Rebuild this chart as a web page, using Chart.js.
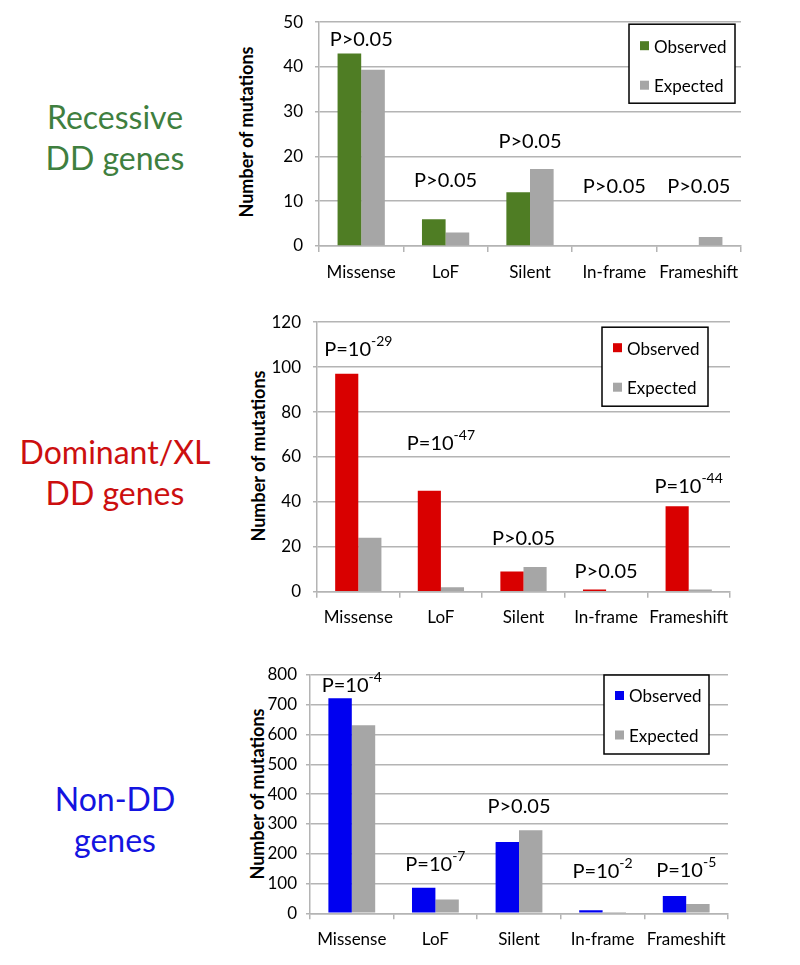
<!DOCTYPE html>
<html>
<head>
<meta charset="utf-8">
<script src="https://cdn.jsdelivr.net/npm/chart.js@4.4.1/dist/chart.umd.min.js"></script>
<style>
  html, body { margin: 0; padding: 0; background: #fff; }
  body { width: 800px; height: 965px; position: relative; overflow: hidden; font-family: Lato, "Open Sans", sans-serif; }
  .wrap { position: absolute; left: 230px; width: 570px; }
  .side { position: absolute; width: 230px; text-align: center; font-family: Lato, sans-serif; font-size: 32px; line-height: 41px; }
  .ytitle { position: absolute; font-family: Lato, sans-serif; font-weight: bold; font-size: 18px; color: #000; white-space: nowrap; transform: translate(-50%, -50%) rotate(-90deg); }
</style>
</head>
<body>
<div class="side" style="left:0; top:96px; color:#3f7f3f;">Recessive<br>DD genes</div>
<div class="side" style="left:0; top:431px; color:#cc0f0f;">Dominant/XL<br>DD genes</div>
<div class="side" style="left:0; top:778px; color:#1414e0;">Non-DD<br>genes</div>

<div class="ytitle" style="left:246px; top:132px;">Number of mutations</div>
<div class="ytitle" style="left:258px; top:456px;">Number of mutations</div>
<div class="ytitle" style="left:257px; top:794px;">Number of mutations</div>

<div class="wrap" style="top:0; height:290px;"><canvas id="c1" width="570" height="290"></canvas></div>
<div class="wrap" style="top:300px; height:330px;"><canvas id="c2" width="570" height="330"></canvas></div>
<div class="wrap" style="top:640px; height:325px;"><canvas id="c3" width="570" height="325"></canvas></div>

<script>
// ---- data ----
const categories = ['Missense', 'LoF', 'Silent', 'In-frame', 'Frameshift'];
const seriesNames = ['Observed', 'Expected'];

const recessiveObserved = [43, 6, 12, 0, 0];
const recessiveExpected = [39.4, 3, 17.2, 0, 2];
const recessivePValues = ['P>0.05', 'P>0.05', 'P>0.05', 'P>0.05', 'P>0.05'];

const dominantObserved = [97, 45, 9, 1, 38];
const dominantExpected = [24, 2, 11, 0, 1];
const dominantPValues = ['P=10^-29', 'P=10^-47', 'P>0.05', 'P>0.05', 'P=10^-44'];

const nonDDObserved = [722, 86, 239, 10, 58];
const nonDDExpected = [631, 46, 279, 1, 31];
const nonDDPValues = ['P=10^-4', 'P=10^-7', 'P>0.05', 'P=10^-2', 'P=10^-5'];

const recessiveTicks = { max: 50, step: 10 };
const dominantTicks = { max: 120, step: 20 };
const nonDDTicks = { max: 800, step: 100 };

// ---- drawing ----
const FONT = 'Lato, "Open Sans", sans-serif';
const GRID = '#b4b4b4';
const GREY = '#a6a6a6';

function makeChart(canvasId, observed, expected, color, ticksCfg, pValues, cfg) {
  const ctxEl = document.getElementById(canvasId);
  const overlay = {
    id: 'overlay_' + canvasId,
    afterDraw(chart) {
      const ctx = chart.ctx;
      const xs = chart.scales.x, ys = chart.scales.y;
      const area = chart.chartArea;
      ctx.save();
      // p-value annotations
      ctx.fillStyle = '#000';
      ctx.textBaseline = 'middle';
      pValues.forEach((txt, i) => {
        const cx = xs.getPixelForValue(i);
        const cy = ys.getPixelForValue(cfg.pAt[i]);
        let base = txt, sup = '';
        const k = txt.indexOf('^');
        if (k >= 0) { base = txt.slice(0, k); sup = txt.slice(k + 1); }
        ctx.font = '20px ' + FONT;
        const wb = ctx.measureText(base).width;
        ctx.font = '14px ' + FONT;
        const ws = sup ? ctx.measureText(sup).width : 0;
        const x0 = cx - (wb + ws) / 2;
        ctx.textAlign = 'left';
        ctx.font = '20px ' + FONT;
        ctx.fillText(base, x0, cy);
        if (sup) {
          ctx.font = '14px ' + FONT;
          ctx.fillText(sup, x0 + wb, cy - 8);
        }
      });
      // legend box
      const lb = cfg.legend;
      const bx = area.right + lb.dxRight - lb.w, by = area.top + lb.dyTop;
      ctx.fillStyle = '#fff';
      ctx.fillRect(bx, by, lb.w, lb.h);
      ctx.strokeStyle = '#000';
      ctx.lineWidth = 1.5;
      ctx.strokeRect(bx, by, lb.w, lb.h);
      const cols = [color, GREY];
      ctx.font = '17px ' + FONT;
      ctx.textAlign = 'left';
      ctx.textBaseline = 'middle';
      chart.data.datasets.forEach((ds, i) => {
        const yy = by + lb.row0 + i * 39.5;
        ctx.fillStyle = cols[i];
        ctx.fillRect(bx + 11, yy - 6, 9, 9);
        ctx.fillStyle = '#000';
        ctx.fillText(ds.label, bx + 25, yy);
      });
      ctx.restore();
    }
  };
  return new Chart(ctxEl, {
    type: 'bar',
    data: {
      labels: categories,
      datasets: [
        { label: seriesNames[0], data: observed, backgroundColor: color },
        { label: seriesNames[1], data: expected, backgroundColor: GREY }
      ]
    },
    options: {
      responsive: false,
      animation: false,
      devicePixelRatio: 1,
      layout: { padding: { left: 0, top: cfg.top, right: cfg.right, bottom: 0 } },
      datasets: { bar: { categoryPercentage: 0.56, barPercentage: 1.0 } },
      plugins: { legend: { display: false }, tooltip: { enabled: false } },
      scales: {
        x: {
          offset: true,
          grid: { offset: true, drawOnChartArea: false, drawTicks: true, tickLength: 6, color: GRID, lineWidth: 1.5 },
          border: { display: true, color: GRID, width: 1.5 },
          ticks: { color: '#000', font: { family: FONT, size: 17 }, padding: cfg.xPad, maxRotation: 0, autoSkip: false },
          afterFit(scale) { scale.height = cfg.xH; }
        },
        y: {
          min: 0, max: ticksCfg.max,
          ticks: { stepSize: ticksCfg.step, color: '#000', font: { family: FONT, size: 17 }, padding: cfg.yPad },
          grid: { color: GRID, lineWidth: 1.5, drawTicks: true, tickLength: 4 },
          border: { display: true, color: GRID, width: 1.5 },
          afterFit(scale) { scale.width = cfg.yW; }
        }
      }
    },
    plugins: [overlay]
  });
}

makeChart('c1', recessiveObserved, recessiveExpected, '#4f7d24', recessiveTicks, recessivePValues, {
  top: 17, right: 59, yW: 89, xH: 44, xPad: 10, yPad: 12,
  pAt: [46.1, 14.6, 23.4, 13.3, 13.3],
  legend: { w: 106, h: 79, dxRight: -6, dyTop: 2, row0: 23 }
});
makeChart('c2', dominantObserved, dominantExpected, '#d90000', dominantTicks, dominantPValues, {
  top: 20, right: 70, yW: 87, xH: 38.3, xPad: 10, yPad: 12,
  pAt: [108, 66, 23.7, 8.8, 47],
  legend: { w: 106, h: 79, dxRight: -22, dyTop: 5, row0: 22 }
});
makeChart('c3', nonDDObserved, nonDDExpected, '#0000f0', nonDDTicks, nonDDPValues, {
  top: 35, right: 72, yW: 80, xH: 51.7, xPad: 10, yPad: 9,
  pAt: [766, 165, 358, 140, 145],
  legend: { w: 105, h: 79, dxRight: -19, dyTop: 0, row0: 22 }
});
</script>
</body>
</html>
